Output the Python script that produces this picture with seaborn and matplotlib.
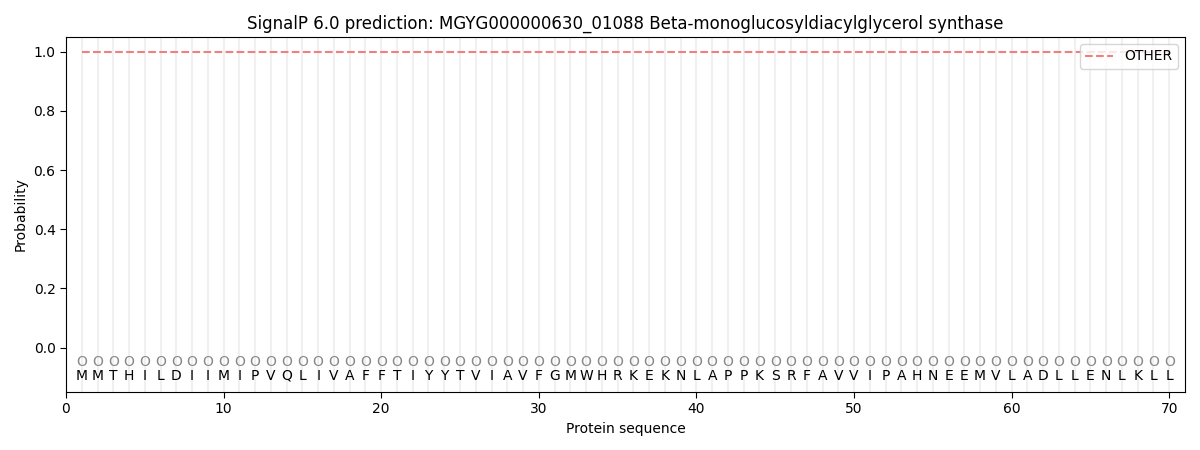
import numpy as np
import pandas as pd
import seaborn as sns
import matplotlib
matplotlib.use('Agg')
import matplotlib.pyplot as plt

sequence = list('MMTHILDIIMIPVQLIVAFFTIYYTVIAVFGMWHRKEKNLAPPKSRFAVVIPAHNEEMVLADLLENLKLL')
positions = list(range(1, len(sequence) + 1))
other_prob = [1.0] * len(sequence)
region_labels = ['O'] * len(sequence)

df = pd.DataFrame({'pos': positions, 'OTHER': other_prob, 'aa': sequence, 'region': region_labels})

sns.set_style('white', {'text.color': 'black', 'axes.labelcolor': 'black',
                        'xtick.color': 'black', 'ytick.color': 'black',
                        'axes.edgecolor': 'black'})
fig, ax = plt.subplots(figsize=(12, 4.5), dpi=100)
fig.subplots_adjust(left=0.055, right=0.9875, top=0.918, bottom=0.129)

for p in df.pos:
    ax.axvline(p, color='#f0f0f0', lw=1.5, zorder=0)

sns.lineplot(data=df, x='pos', y='OTHER', ax=ax, color='#f08080', linestyle='--',
             lw=1.5, label='OTHER')

for p, aa, r in zip(df.pos, df.aa, df.region):
    ax.text(p, -0.05, r, ha='center', va='center', fontsize=10, color='#888888')
    ax.text(p, -0.095, aa, ha='center', va='center', fontsize=10, color='black')

ax.set_xlim(0, 71)
ax.set_ylim(-0.15, 1.05)
ax.set_yticks([0.0, 0.2, 0.4, 0.6, 0.8, 1.0])
ax.set_xlabel('Protein sequence')
ax.set_ylabel('Probability')
ax.set_title('SignalP 6.0 prediction: MGYG000000630_01088 Beta-monoglucosyldiacylglycerol synthase')
ax.tick_params(axis='both', length=4, direction='out', bottom=True, left=True)
ax.legend(loc='upper right')

plt.savefig('out.png')
